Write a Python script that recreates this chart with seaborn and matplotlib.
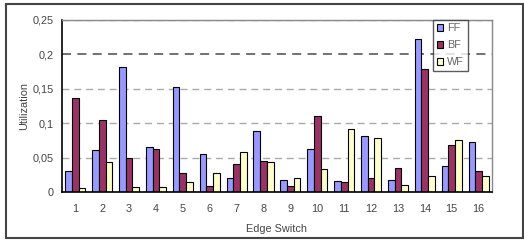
import matplotlib
matplotlib.use("Agg")
import matplotlib.pyplot as plt
from matplotlib.patches import Rectangle
from matplotlib.ticker import FixedLocator
import seaborn as sns
import pandas as pd

switches = [str(i) for i in range(1, 17)]
ff = [0.030, 0.061, 0.181, 0.066, 0.153, 0.055, 0.020, 0.088,
      0.018, 0.063, 0.016, 0.081, 0.018, 0.223, 0.038, 0.073]
bf = [0.136, 0.105, 0.049, 0.063, 0.028, 0.008, 0.041, 0.045,
      0.008, 0.111, 0.014, 0.020, 0.035, 0.178, 0.068, 0.031]
wf = [0.006, 0.043, 0.007, 0.007, 0.014, 0.028, 0.058, 0.043,
      0.020, 0.033, 0.091, 0.078, 0.010, 0.023, 0.076, 0.023]
yticks = [0, 0.05, 0.1, 0.15, 0.2, 0.25]
ytick_labels = ["0", "0,05", "0,1", "0,15", "0,2", "0,25"]

df = pd.DataFrame({
    "switch": switches * 3,
    "util": ff + bf + wf,
    "alg": ["FF"] * 16 + ["BF"] * 16 + ["WF"] * 16,
})

sns.set_style("white")
plt.rcParams["font.family"] = ["Liberation Sans", "DejaVu Sans"]

fig = plt.figure(figsize=(5.24, 2.4), dpi=100)
ax = fig.add_axes([0.118, 0.2, 0.821, 0.717])

palette = {"FF": "#9999FF", "BF": "#993366", "WF": "#FFFFCC"}
sns.barplot(data=df, x="switch", y="util", hue="alg", palette=palette,
            width=0.75, edgecolor="black", linewidth=0.8, saturation=1,
            ax=ax)

fs = 7.8
ax.set_xlim(-0.5, 15.5)
ax.set_ylim(0, 0.25)
ax.set_yticks(yticks)
ax.set_yticklabels(ytick_labels)
ax.tick_params(axis="y", length=3, width=0.8, color="black", labelsize=fs,
               labelcolor="#444444", pad=3)
ax.tick_params(axis="x", which="major", length=0, labelsize=fs,
               labelcolor="#444444", pad=9)
ax.xaxis.set_minor_locator(FixedLocator([i - 0.5 for i in range(17)]))
ax.tick_params(axis="x", which="minor", length=3, width=0.8, color="black",
               direction="out")

ax.yaxis.grid(True, linestyle=(0, (5, 3.5)), color="#AAAAAA", linewidth=1)
ax.set_axisbelow(True)
for i, gl in enumerate(ax.get_ygridlines()):
    if i == 4:
        gl.set_color("#666666")
        gl.set_linewidth(1.3)

ax.spines["left"].set_color("black")
ax.spines["bottom"].set_color("black")
ax.spines["left"].set_linewidth(1.2)
ax.spines["bottom"].set_linewidth(1.2)
ax.spines["top"].set_color("#888888")
ax.spines["right"].set_color("#888888")
ax.spines["top"].set_linewidth(1)
ax.spines["right"].set_linewidth(1)

ax.set_xlabel("Edge Switch", fontsize=fs, color="#444444", labelpad=7)
ax.set_ylabel("Utilization", fontsize=fs, color="#444444", labelpad=2)

leg = ax.legend(loc="upper right", bbox_to_anchor=(0.943, 1.0),
                fontsize=fs, frameon=True, fancybox=False,
                handlelength=0.6, handleheight=0.6, handletextpad=0.4,
                borderpad=0.3, labelspacing=0.65, borderaxespad=0)
leg.get_frame().set_edgecolor("#333333")
leg.get_frame().set_linewidth(1)
for t in leg.get_texts():
    t.set_color("#666666")

fig.patches.append(Rectangle((0.012, 0.008), 0.986, 0.975,
                             transform=fig.transFigure, fill=False,
                             edgecolor="#444444", linewidth=1.5))

fig.savefig("out.png", dpi=100)
